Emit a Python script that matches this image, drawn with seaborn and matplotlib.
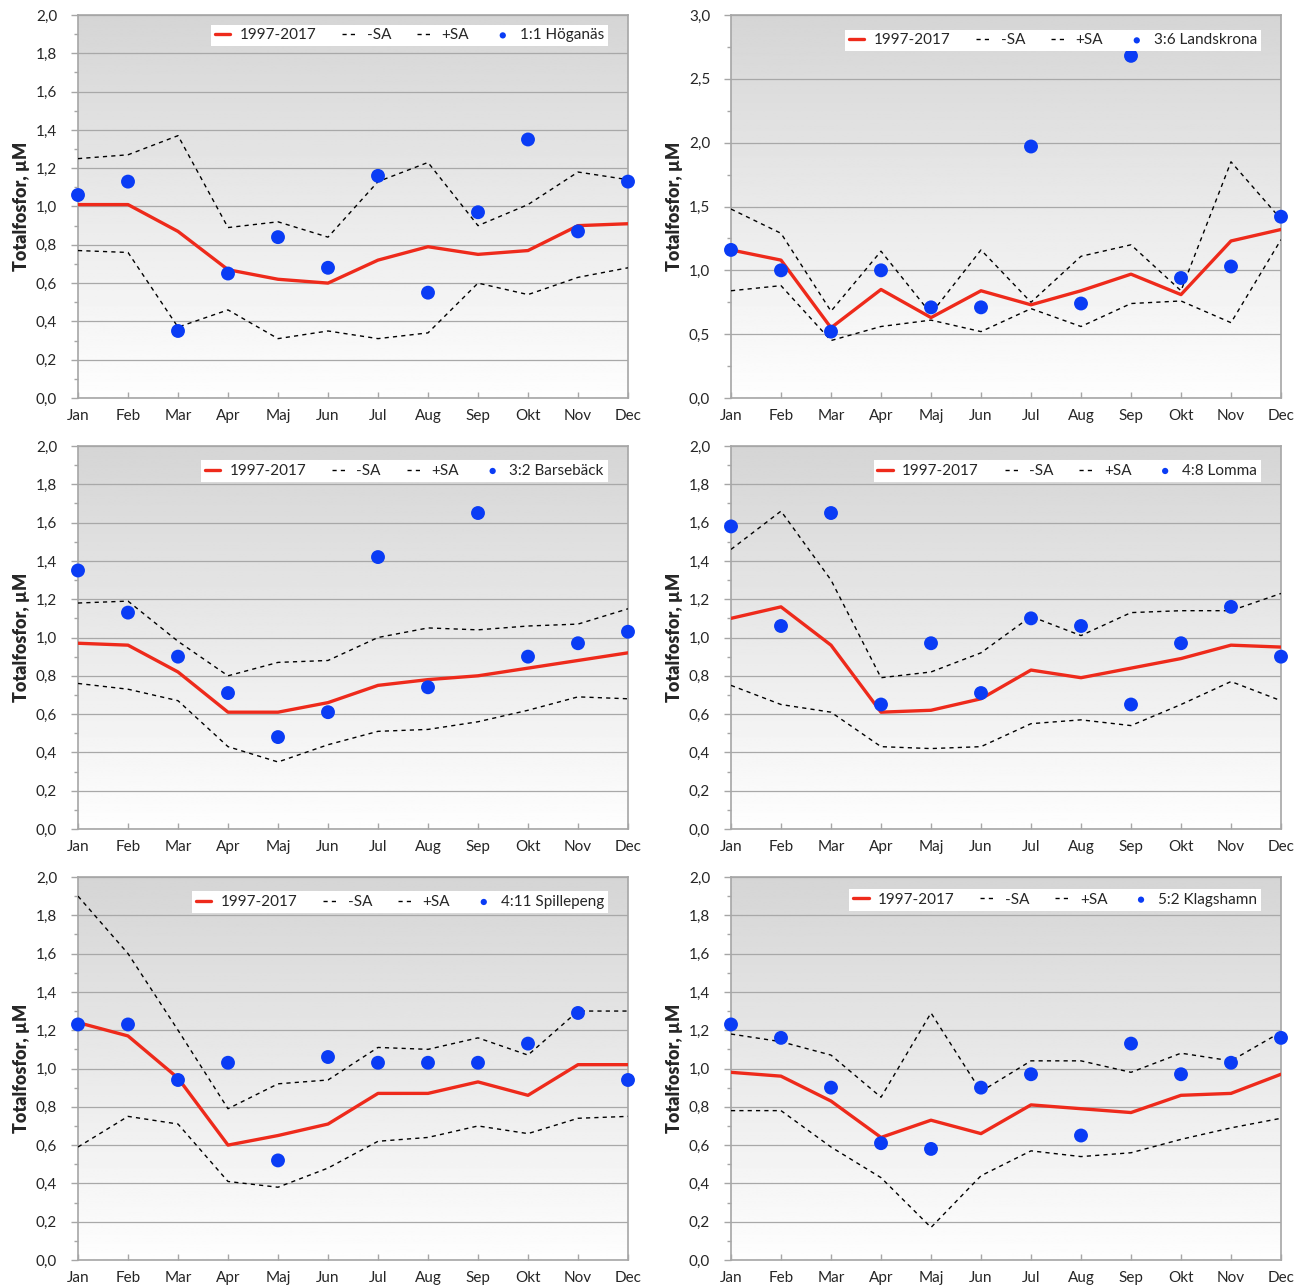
import numpy as np
import pandas as pd
import matplotlib
matplotlib.use("Agg")
import matplotlib.pyplot as plt
from matplotlib.ticker import MultipleLocator, FuncFormatter
import seaborn as sns

months = ["Jan", "Feb", "Mar", "Apr", "Maj", "Jun", "Jul", "Aug", "Sep", "Okt", "Nov", "Dec"]

stations = ["1:1 Höganäs", "3:6 Landskrona", "3:2 Barsebäck",
            "4:8 Lomma", "4:11 Spillepeng", "5:2 Klagshamn"]

# Long-term monthly mean 1997-2017
mean_hog = [1.01, 1.01, 0.87, 0.67, 0.62, 0.60, 0.72, 0.79, 0.75, 0.77, 0.90, 0.91]
mean_lan = [1.16, 1.08, 0.55, 0.85, 0.63, 0.84, 0.73, 0.84, 0.97, 0.81, 1.23, 1.32]
mean_bar = [0.97, 0.96, 0.82, 0.61, 0.61, 0.66, 0.75, 0.78, 0.80, 0.84, 0.88, 0.92]
mean_lom = [1.10, 1.16, 0.96, 0.61, 0.62, 0.68, 0.83, 0.79, 0.84, 0.89, 0.96, 0.95]
mean_spi = [1.24, 1.17, 0.95, 0.60, 0.65, 0.71, 0.87, 0.87, 0.93, 0.86, 1.02, 1.02]
mean_kla = [0.98, 0.96, 0.83, 0.64, 0.73, 0.66, 0.81, 0.79, 0.77, 0.86, 0.87, 0.97]

# Mean minus one standard deviation
minus_hog = [0.77, 0.76, 0.37, 0.46, 0.31, 0.35, 0.31, 0.34, 0.60, 0.54, 0.63, 0.68]
minus_lan = [0.84, 0.88, 0.45, 0.56, 0.61, 0.52, 0.70, 0.56, 0.74, 0.76, 0.59, 1.24]
minus_bar = [0.76, 0.73, 0.67, 0.43, 0.35, 0.44, 0.51, 0.52, 0.56, 0.62, 0.69, 0.68]
minus_lom = [0.75, 0.65, 0.61, 0.43, 0.42, 0.43, 0.55, 0.57, 0.54, 0.65, 0.77, 0.67]
minus_spi = [0.59, 0.75, 0.71, 0.41, 0.38, 0.48, 0.62, 0.64, 0.70, 0.66, 0.74, 0.75]
minus_kla = [0.78, 0.78, 0.59, 0.43, 0.17, 0.44, 0.57, 0.54, 0.56, 0.63, 0.69, 0.74]

# Mean plus one standard deviation
plus_hog = [1.25, 1.27, 1.37, 0.89, 0.92, 0.84, 1.13, 1.23, 0.90, 1.01, 1.18, 1.14]
plus_lan = [1.48, 1.29, 0.68, 1.15, 0.66, 1.16, 0.75, 1.11, 1.20, 0.84, 1.85, 1.40]
plus_bar = [1.18, 1.19, 0.98, 0.80, 0.87, 0.88, 1.00, 1.05, 1.04, 1.06, 1.07, 1.15]
plus_lom = [1.46, 1.66, 1.30, 0.79, 0.82, 0.92, 1.11, 1.01, 1.13, 1.14, 1.14, 1.23]
plus_spi = [1.90, 1.60, 1.20, 0.79, 0.92, 0.94, 1.11, 1.10, 1.16, 1.07, 1.30, 1.30]
plus_kla = [1.18, 1.14, 1.07, 0.85, 1.29, 0.88, 1.04, 1.04, 0.98, 1.08, 1.04, 1.19]

# Measured values of the current year
obs_hog = [1.06, 1.13, 0.35, 0.65, 0.84, 0.68, 1.16, 0.55, 0.97, 1.35, 0.87, 1.13]
obs_lan = [1.16, 1.00, 0.52, 1.00, 0.71, 0.71, 1.97, 0.74, 2.68, 0.94, 1.03, 1.42]
obs_bar = [1.35, 1.13, 0.90, 0.71, 0.48, 0.61, 1.42, 0.74, 1.65, 0.90, 0.97, 1.03]
obs_lom = [1.58, 1.06, 1.65, 0.65, 0.97, 0.71, 1.10, 1.06, 0.65, 0.97, 1.16, 0.90]
obs_spi = [1.23, 1.23, 0.94, 1.03, 0.52, 1.06, 1.03, 1.03, 1.03, 1.13, 1.29, 0.94]
obs_kla = [1.23, 1.16, 0.90, 0.61, 0.58, 0.90, 0.97, 0.65, 1.13, 0.97, 1.03, 1.16]

means = [mean_hog, mean_lan, mean_bar, mean_lom, mean_spi, mean_kla]
minus = [minus_hog, minus_lan, minus_bar, minus_lom, minus_spi, minus_kla]
plus = [plus_hog, plus_lan, plus_bar, plus_lom, plus_spi, plus_kla]
obs = [obs_hog, obs_lan, obs_bar, obs_lom, obs_spi, obs_kla]
ymax = [2.0, 3.0, 2.0, 2.0, 2.0, 2.0]

sns.set_theme(style="white")
plt.rcParams["font.family"] = ["Lato", "DejaVu Sans"]

RED = "#ee2a1b"
BLUE = "#0a3cf5"
SPINE = "#a6a6a6"
GRID = "#a8a8a8"

W, H = 1300, 1286
fig = plt.figure(figsize=(W / 100, H / 100), dpi=100)

col_left = [78, 731]
row_top = [15, 446, 877]
ax_w, ax_h = 550, 383
legend_top = [0.975, 0.962, 0.963, 0.963, 0.963, 0.969]

# vertical grey-to-white background gradient
grad = np.linspace(0.835, 0.995, 256).reshape(-1, 1)

fmt = FuncFormatter(lambda v, p: f"{v:.1f}".replace(".", ","))

for i in range(6):
    r, c = divmod(i, 2)
    x0 = col_left[c] / W
    y0 = 1 - (row_top[r] + ax_h) / H
    ax = fig.add_axes([x0, y0, ax_w / W, ax_h / H])

    df = pd.DataFrame({
        "x": np.arange(12),
        "mean": means[i],
        "minus": minus[i],
        "plus": plus[i],
        "obs": obs[i],
    })

    ax.imshow(grad, extent=[0, 1, 0, 1], transform=ax.transAxes, aspect="auto",
              cmap="gray", vmin=0, vmax=1, origin="upper", zorder=0)

    sns.lineplot(data=df, x="x", y="mean", ax=ax, color=RED, lw=2.4,
                 label="1997-2017", zorder=4)
    sns.lineplot(data=df, x="x", y="minus", ax=ax, color="black", lw=1.0,
                 label="-SA", zorder=3)
    sns.lineplot(data=df, x="x", y="plus", ax=ax, color="black", lw=1.0,
                 label="+SA", zorder=3)
    for ln in ax.lines[1:3]:
        ln.set_dashes((3, 3))
    sns.scatterplot(data=df, x="x", y="obs", ax=ax, color=BLUE, s=100,
                    edgecolor="none", label=stations[i], zorder=5, clip_on=False)

    ax.set_xlim(0, 11)
    ax.set_ylim(0, ymax[i])
    step = 0.5 if ymax[i] > 2 else 0.2
    ax.yaxis.set_major_locator(MultipleLocator(step))
    ax.yaxis.set_minor_locator(MultipleLocator(step / 2))
    ax.yaxis.set_major_formatter(fmt)
    ax.set_xticks(np.arange(12))
    ax.set_xticklabels(months)
    ax.grid(axis="y", which="major", color=GRID, lw=0.9, zorder=1)
    ax.set_axisbelow(True)

    for sp in ax.spines.values():
        sp.set_color(SPINE)
        sp.set_linewidth(1.2)
        sp.set_visible(True)

    ax.tick_params(axis="y", which="major", direction="out", length=5, width=1,
                   color=SPINE, labelsize=11, pad=10, left=True)
    ax.tick_params(axis="y", which="minor", direction="out", length=3, width=1,
                   color=SPINE, left=True)
    ax.tick_params(axis="x", which="major", direction="in", length=4, width=1,
                   color=SPINE, labelsize=11, pad=8, bottom=True)

    ax.set_xlabel("")
    ax.set_ylabel("Totalfosfor, µM", fontsize=13, fontweight="heavy")
    ax.yaxis.set_label_coords(-0.088, 0.5)

    handles, labels = ax.get_legend_handles_labels()
    leg = ax.legend(handles, labels, ncol=4, loc="upper right",
                    bbox_to_anchor=(0.963, legend_top[i]),
                    frameon=True, fancybox=False, framealpha=1,
                    edgecolor="white", facecolor="white", fontsize=11,
                    handlelength=1.0, handletextpad=0.6, columnspacing=1.7,
                    borderpad=0.25, borderaxespad=0, markerscale=0.45)
    leg.get_frame().set_linewidth(0)

fig.savefig("out.png", dpi=100)
